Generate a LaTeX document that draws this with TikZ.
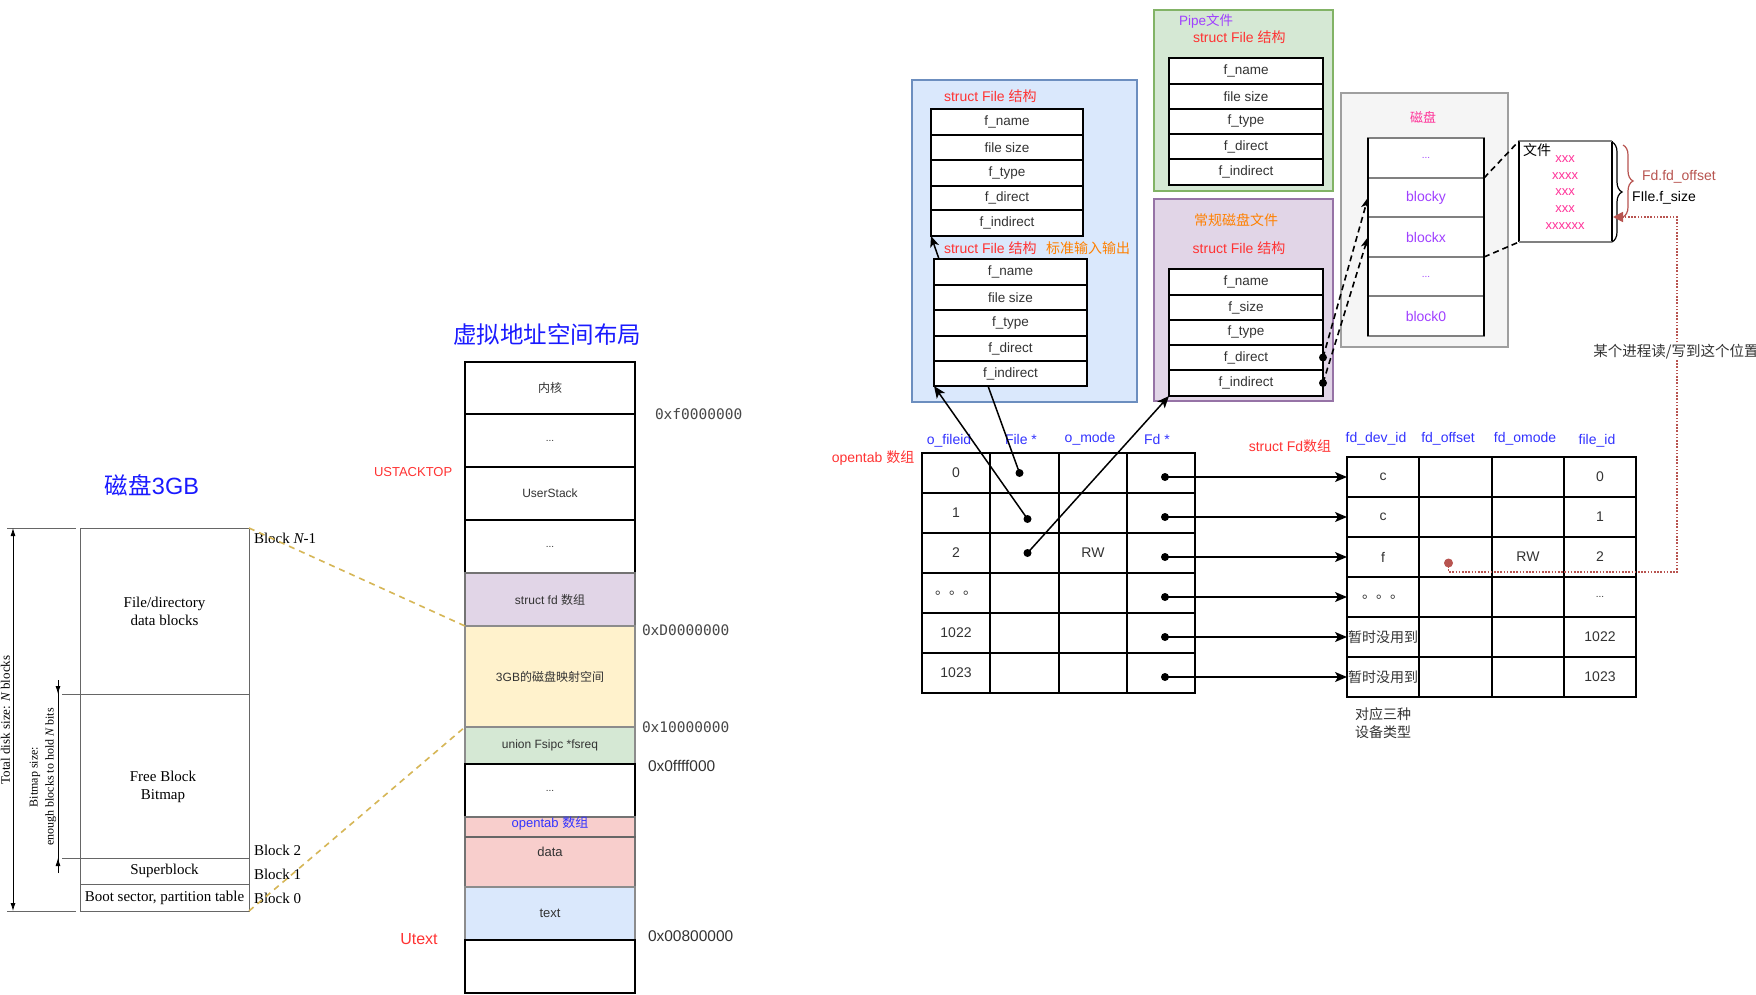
\documentclass[tikz,border=0pt]{standalone}
\usepackage{fontspec}
\setmainfont{Liberation Sans}
\newfontfamily\cjk{Noto Sans CJK SC}
\newfontfamily\serifff{Liberation Serif}
\newfontfamily\monoff{DejaVu Sans Mono}
\usetikzlibrary{arrows.meta,calc,decorations.pathreplacing}
\newcommand{\zh}[1]{{\cjk #1}}
\newcommand{\fsz}[1]{\fontsize{#1}{#1}\selectfont}
\definecolor{tblue}{HTML}{1A1AFF}
\definecolor{hblue}{HTML}{3333FF}
\definecolor{tred}{HTML}{FF3333}
\definecolor{torange}{HTML}{FF8000}
\definecolor{tpurple}{HTML}{A040FF}
\definecolor{tpink}{HTML}{FF3399}
\definecolor{bred}{HTML}{B85450}
\definecolor{fblue}{HTML}{DAE8FC}
\definecolor{dblue}{HTML}{6C8EBF}
\definecolor{fgreen}{HTML}{D5E8D4}
\definecolor{dgreen}{HTML}{82B366}
\definecolor{fpurple}{HTML}{E1D5E7}
\definecolor{dpurple}{HTML}{9673A6}
\definecolor{fyellow}{HTML}{FFF2CC}
\definecolor{dyellow}{HTML}{D6B656}
\definecolor{fred}{HTML}{F8CECC}
\definecolor{fgrey}{HTML}{F5F5F5}
\definecolor{dgrey}{HTML}{666666}
\definecolor{txt}{HTML}{333333}
\begin{document}
\begin{tikzpicture}[x=1pt,y=-1pt,
  every node/.style={inner sep=0, outer sep=0},
  box/.style={draw, line width=1.2, anchor=north west},
  cell/.style={draw=black, line width=1.2, anchor=north west, fill=white, font=\fsz{13.5}, text=txt},
  va/.style={draw=black, line width=1.2, anchor=north west, minimum width=170, font=\fsz{12}, text=txt},
  ldisk/.style={draw=dgrey, line width=1, anchor=north west, minimum width=169, font=\serifff\fsz{15}, text=black},
  blk/.style={anchor=west, font=\serifff\fsz{15}, text=black},
  addr/.style={anchor=west, font=\monoff\fsz{14.5}, text=black!72},
  saddr/.style={anchor=west, font=\fsz{15.5}, text=black!80},
  hdr/.style={font=\fsz{14}, text=hblue},
  rtitle/.style={font=\fsz{14}, text=tred},
  conn/.style={line width=1.5, -{Stealth[length=12pt,width=10pt,inset=3pt]}},
  dimarr/.style={-{Latex[length=8pt,width=5pt]}, line width=0.8},
  dsh/.style={dashed, dash pattern=on 6pt off 4pt, line width=1.6, -{Stealth[length=11pt,width=8pt,inset=3pt]}},
  brc/.style={decorate, decoration={brace, amplitude=10pt}, line width=1.2}
]
\useasboundingbox (0,0) rectangle (1756,995);
\fill[white] (0,0) rectangle (1756,995);

% ---------------- left disk ----------------
\node[font=\fsz{23.5}, text=tblue] (disktitleL) at (152,485) {\zh{磁盘}3GB};
\node[ldisk, minimum height=166, align=center, font=\serifff\fontsize{15}{18}\selectfont] (ld_data) at (80,528) {File/directory\\data blocks};
\node[ldisk, minimum height=164] (ld_bitmap) at (80,694) {};
\node[align=center, font=\serifff\fontsize{15}{18}\selectfont] (ld_bitmap_t) at (163,787) {Free Block\\Bitmap};
\node[ldisk, minimum height=26] (ld_super) at (80,858) {Superblock};
\node[ldisk, minimum height=27] (ld_boot) at (80,884) {Boot sector, partition table};
\node[blk] (bN) at (254,538) {Block {\itshape N}-1};
\node[blk] (b2) at (254,850) {Block 2};
\node[blk] (b1) at (254,874) {Block 1};
\node[blk] (b0) at (254,898) {Block 0};

\draw[dgrey, line width=1] (7,528) -- (76,528);
\draw[dgrey, line width=1] (7,911) -- (76,911);
\draw[line width=0.8, {Latex[length=8pt,width=5pt]}-{Latex[length=8pt,width=5pt]}] (13,528) -- (13,911);
\node[rotate=90, font=\serifff\fsz{13}] (totsize) at (5.5,720) {Total disk size: {\itshape N} blocks};
\draw[line width=0.8] (58,680) -- (58,873);
\draw[dimarr] (58,680) -- (58,694);
\draw[dimarr] (58,873) -- (58,858);
\draw[dgrey, line width=1] (62,694) -- (80,694);
\draw[dgrey, line width=1] (62,858) -- (80,858);
\node[rotate=90, align=center, font=\serifff\fontsize{12}{16}\selectfont] (bmsize) at (43,777) {Bitmap size:\\enough blocks to hold {\itshape N} bits};

% ---------------- virtual address layout ----------------
\node[font=\cjk\fsz{23.5}, text=tblue] (vatitle) at (547,335) {虚拟地址空间布局};
\node[va, minimum height=52] (va_kern) at (465,362) {\zh{内核}};
\node[va, minimum height=53] (va_dots1) at (465,414) {\fsz{10}...};
\node[va, minimum height=53] (va_stack) at (465,467) {UserStack};
\node[va, minimum height=53] (va_dots2) at (465,520) {\fsz{10}...};
\node[va, draw=black!55, fill=fpurple, minimum height=53] (va_fd) at (465,573) {struct fd \zh{数组}};
\node[va, draw=black!45, fill=fyellow, minimum height=101] (va_disk) at (465,626) {3GB\zh{的磁盘映射空间}};
\node[va, draw=black!45, fill=fgreen, minimum height=37] (va_ipc) at (465,727) {union Fsipc *fsreq};
\node[va, minimum height=53] (va_dots3) at (465,764) {\fsz{10}...};
\node[va, draw=black!55, fill=fred, minimum height=20] (va_otab) at (465,817) {};
\node[font=\fsz{13}, text=hblue] (va_otab_t) at (550,823) {opentab \zh{数组}};
\node[va, draw=black!55, fill=fred, minimum height=50] (va_data) at (465,837) {};
\node[font=\fsz{13}, text=txt] (va_data_t) at (550,852) {data};
\draw[black!60, line width=2] (va_data.north west) -- ([xshift=1]va_data.north east);
\node[va, draw=black!45, fill=fblue, minimum height=53] (va_text) at (465,887) {\fsz{13}text};
\node[va, minimum height=53] (va_bot) at (465,940) {};

\node[addr] (a1) at (655,414) {0xf0000000};
\node[addr] (a2) at (642,630) {0xD0000000};
\node[addr] (a3) at (642,727) {0x10000000};
\node[saddr] (a4) at (648,766) {0x0ffff000};
\node[saddr] (a5) at (648,936) {0x00800000};
\node[anchor=west, font=\fsz{13}, text=tred] (ustack) at (374,472) {USTACKTOP};
\node[font=\fsz{16}, text=tred] (utext) at (419,939) {Utext};

\draw[dyellow, line width=1.6, dash pattern=on 6pt off 5pt] (ld_data.north east) -- (va_fd.south west);
\draw[dyellow, line width=1.6, dash pattern=on 6pt off 5pt] (ld_boot.south east) -- (va_disk.south west);

% ---------------- blue box: stdin/stdout File structs ----------------
\node[box, draw=dblue, fill=fblue, minimum width=225, minimum height=322] (bluebox) at (912,80) {};
\node[rtitle, anchor=west] (bt1) at (944,96) {struct File \zh{结构}};
\foreach \i/\y/\h/\t in {1/109/26/f\_name, 2/135/25/file size, 3/160/26/f\_type, 4/186/24/f\_direct, 5/210/26/f\_indirect}
  \node[cell, minimum width=152, minimum height=\h] (fa\i) at (931,\y) {\t};
\node[rtitle, anchor=west] (bt2) at (944,248) {struct File \zh{结构}};
\node[anchor=west, font=\cjk\fsz{14}, text=torange] (stdio) at (1046,248) {标准输入输出};
\foreach \i/\y/\h/\t in {1/259/26/f\_name, 2/285/25/file size, 3/310/26/f\_type, 4/336/25/f\_direct, 5/361/25/f\_indirect}
  \node[cell, minimum width=153, minimum height=\h] (fb\i) at (934,\y) {\t};
\draw[line width=1.5, -{Stealth[length=11pt,width=9pt,inset=3pt]}] ($(fb1.north west)+(5,0)$) -- (fa5.south west);

% ---------------- pipe box ----------------
\node[box, draw=dgreen, fill=fgreen, minimum width=179, minimum height=181] (pipebox) at (1154,10) {};
\node[anchor=west, font=\fsz{13.5}, text=tpurple] (pt1) at (1179,21) {Pipe\zh{文件}};
\node[rtitle, anchor=west] (pt2) at (1193,37) {struct File \zh{结构}};
\foreach \i/\y/\h/\t in {1/58/26/f\_name, 2/84/25/file size, 3/109/25/f\_type, 4/134/25/f\_direct, 5/159/26/f\_indirect}
  \node[cell, minimum width=154, minimum height=\h] (fp\i) at (1169,\y) {\t};

% ---------------- regular disk file box ----------------
\node[box, draw=dpurple, fill=fpurple, minimum width=179, minimum height=202] (regbox) at (1154,199) {};
\node[font=\cjk\fsz{14}, text=torange] (rt1) at (1236,220) {常规磁盘文件};
\node[rtitle] (rt2) at (1239,248) {struct File \zh{结构}};
\foreach \i/\y/\h/\t in {1/269/26/f\_name, 2/295/25/f\_size, 3/320/25/f\_type, 4/345/25/f\_direct, 5/370/26/f\_indirect}
  \node[cell, minimum width=154, minimum height=\h] (fr\i) at (1169,\y) {\t};

% ---------------- disk blocks ----------------
\node[box, draw=gray!75, fill=fgrey, line width=1.5, minimum width=167, minimum height=254] (diskbox) at (1341,93) {};
\node[font=\cjk\fsz{13}, text=tpink] (disktitle) at (1423,117) {磁盘};
\foreach \i/\y/\h/\t in {1/138/40/{\fsz{10}...}, 2/178/39/blocky, 3/217/40/blockx, 4/257/39/{\fsz{10}...}, 5/296/40/block0}
  \node[box, draw=gray, line width=1.8, fill=white, minimum width=116, minimum height=\h, font=\fsz{14}, text=tpurple] (dk\i) at (1368,\y) {\t};
\draw[line width=1.2] (dk1.north west) -- (dk5.south west);
\draw[line width=1.2] (dk1.north east) -- (dk5.south east);

% file content box
\node[anchor=north west, minimum width=93, minimum height=101] (filebox) at (1519,141) {};
\draw[line width=1.2] (filebox.north west) -- (filebox.south west);
\draw[line width=1.2] (filebox.north east) -- (filebox.south east);
\draw[gray, line width=1.8] (filebox.north west) -- (filebox.north east);
\draw[gray, line width=1.8] (filebox.south west) -- (filebox.south east);
\node[anchor=west, font=\cjk\fsz{14}] (wenjian) at (1523,150) {文件};
\node[align=center, font=\fontsize{13}{16.75}\selectfont, text=tpink] (filetext) at (1565,192.5) {xxx\\xxxx\\xxx\\xxx\\xxxxxx};
\draw[dashed, dash pattern=on 6pt off 4pt, line width=1.6] (dk2.north east) -- (filebox.north west);
\draw[dashed, dash pattern=on 6pt off 4pt, line width=1.6] (dk3.south east) -- (filebox.south west);
\draw[brc] ([yshift=-1]filebox.north east) -- ([yshift=0]filebox.south east);
\draw[brc, bred] (1623,145) -- (1623,217);
\node[anchor=west, font=\fsz{14}, text=bred] (fdoff) at (1642,177) {Fd.fd\_offset};
\node[anchor=west, font=\fsz{14}, text=black] (fsize) at (1632,198) {FIle.f\_size};

% dashed arrows from regular file pointers to disk blocks
\fill (fr4.east) circle[radius=4pt];
\fill (fr5.east) circle[radius=4pt];
\draw[dsh] (fr4.east) -- (dk2.west);
\draw[dsh] (fr5.east) -- (dk3.west);

% ---------------- opentab table ----------------
\node[font=\fsz{14}, text=tred] (ottitle) at (873,458) {opentab \zh{数组}};
\node[hdr] (h1) at (949,441) {o\_fileid};
\node[hdr] (h2) at (1021,439) {File *};
\node[hdr] (h3) at (1090,439) {o\_mode};
\node[hdr] (h4) at (1157,439) {Fd *};
\foreach \r/\ta/\tc in {0/0/{},1/1/{},2/2/RW,3/{\zh{。。。}}/{},4/1022/{},5/1023/{}} {
  \node[cell, font=\fsz{14}, minimum width=68, minimum height=40] (ot\r1) at (922,453+40*\r) {\ta};
  \node[cell, minimum width=69, minimum height=40] (ot\r2) at (990,453+40*\r) {};
  \node[cell, font=\fsz{14}, minimum width=68, minimum height=40] (ot\r3) at (1059,453+40*\r) {\tc};
  \node[cell, minimum width=68, minimum height=40] (ot\r4) at (1127,453+40*\r) {};
}

% ---------------- struct Fd table ----------------
\node[font=\fsz{14}, text=tred] (fdtitle) at (1290,446) {struct Fd\zh{数组}};
\node[hdr] (g1) at (1376,439) {fd\_dev\_id};
\node[hdr] (g2) at (1448,439) {fd\_offset};
\node[hdr] (g3) at (1525,439) {fd\_omode};
\node[hdr] (g4) at (1597,441) {file\_id};
\foreach \r/\ta/\tc/\td in {0/c/{}/0, 1/c/{}/1, 2/f/RW/2, 3/{\zh{。。。}}/{}/{\fsz{10}...}, 4/{\zh{暂时没用到}}/{}/1022, 5/{\zh{暂时没用到}}/{}/1023} {
  \node[cell, font=\fsz{14}, minimum width=72, minimum height=40] (fd\r1) at (1347,457+40*\r) {\ta};
  \node[cell, minimum width=73, minimum height=40] (fd\r2) at (1419,457+40*\r) {};
  \node[cell, font=\fsz{14}, minimum width=72, minimum height=40] (fd\r3) at (1492,457+40*\r) {\tc};
  \node[cell, font=\fsz{14}, minimum width=72, minimum height=40] (fd\r4) at (1564,457+40*\r) {\td};
}
\node[align=center, font=\cjk\fontsize{14}{18}\selectfont, text=txt] (devtypes) at (1383,723) {对应三种\\设备类型};

% Fd* pointers -> struct Fd rows
\foreach \r in {0,...,5} {
  \coordinate (ddot\r) at ($(ot\r4.center)+(4,4)$);
  \fill (ddot\r) circle[radius=4pt];
  \draw[conn] (ddot\r) -- (fd\r1.west);
}

% File* pointers
\coordinate (fdot0) at ($(ot02.center)+(-5,0)$);
\coordinate (fdot1) at ($(ot12.center)+(3,6)$);
\coordinate (fdot2) at ($(ot22.center)+(3,0)$);
\draw[line width=1.5] ($(fb5.south west)+(54,0)$) -- (fdot0);
\draw[conn] (fdot1) -- (fb5.south west);
\draw[conn] (fdot2) -- (fr5.south west);
\fill (fdot0) circle[radius=4pt];
\fill (fdot1) circle[radius=4pt];
\fill (fdot2) circle[radius=4pt];

% read/write position (red dotted)
\coordinate (rdot) at ($(fd22.center)+(-7,6)$);
\coordinate (rturn) at (1677,572);
\coordinate (rtarget) at ($(filebox.south east)+(1,-25)$);
\fill[bred] (rdot) circle[radius=4.5pt];
\draw[bred, line width=1.6, dash pattern=on 1.6pt off 1.6pt, -{Triangle[length=10pt,width=10pt]}] (rdot) -- ++(0,9) -| (rturn) |- (rtarget);
\node[fill=white, inner sep=1pt, font=\cjk\fsz{14.5}, text=txt] (rwpos) at (1676,352) {某个进程读/写到这个位置};
\end{tikzpicture}
\end{document}
